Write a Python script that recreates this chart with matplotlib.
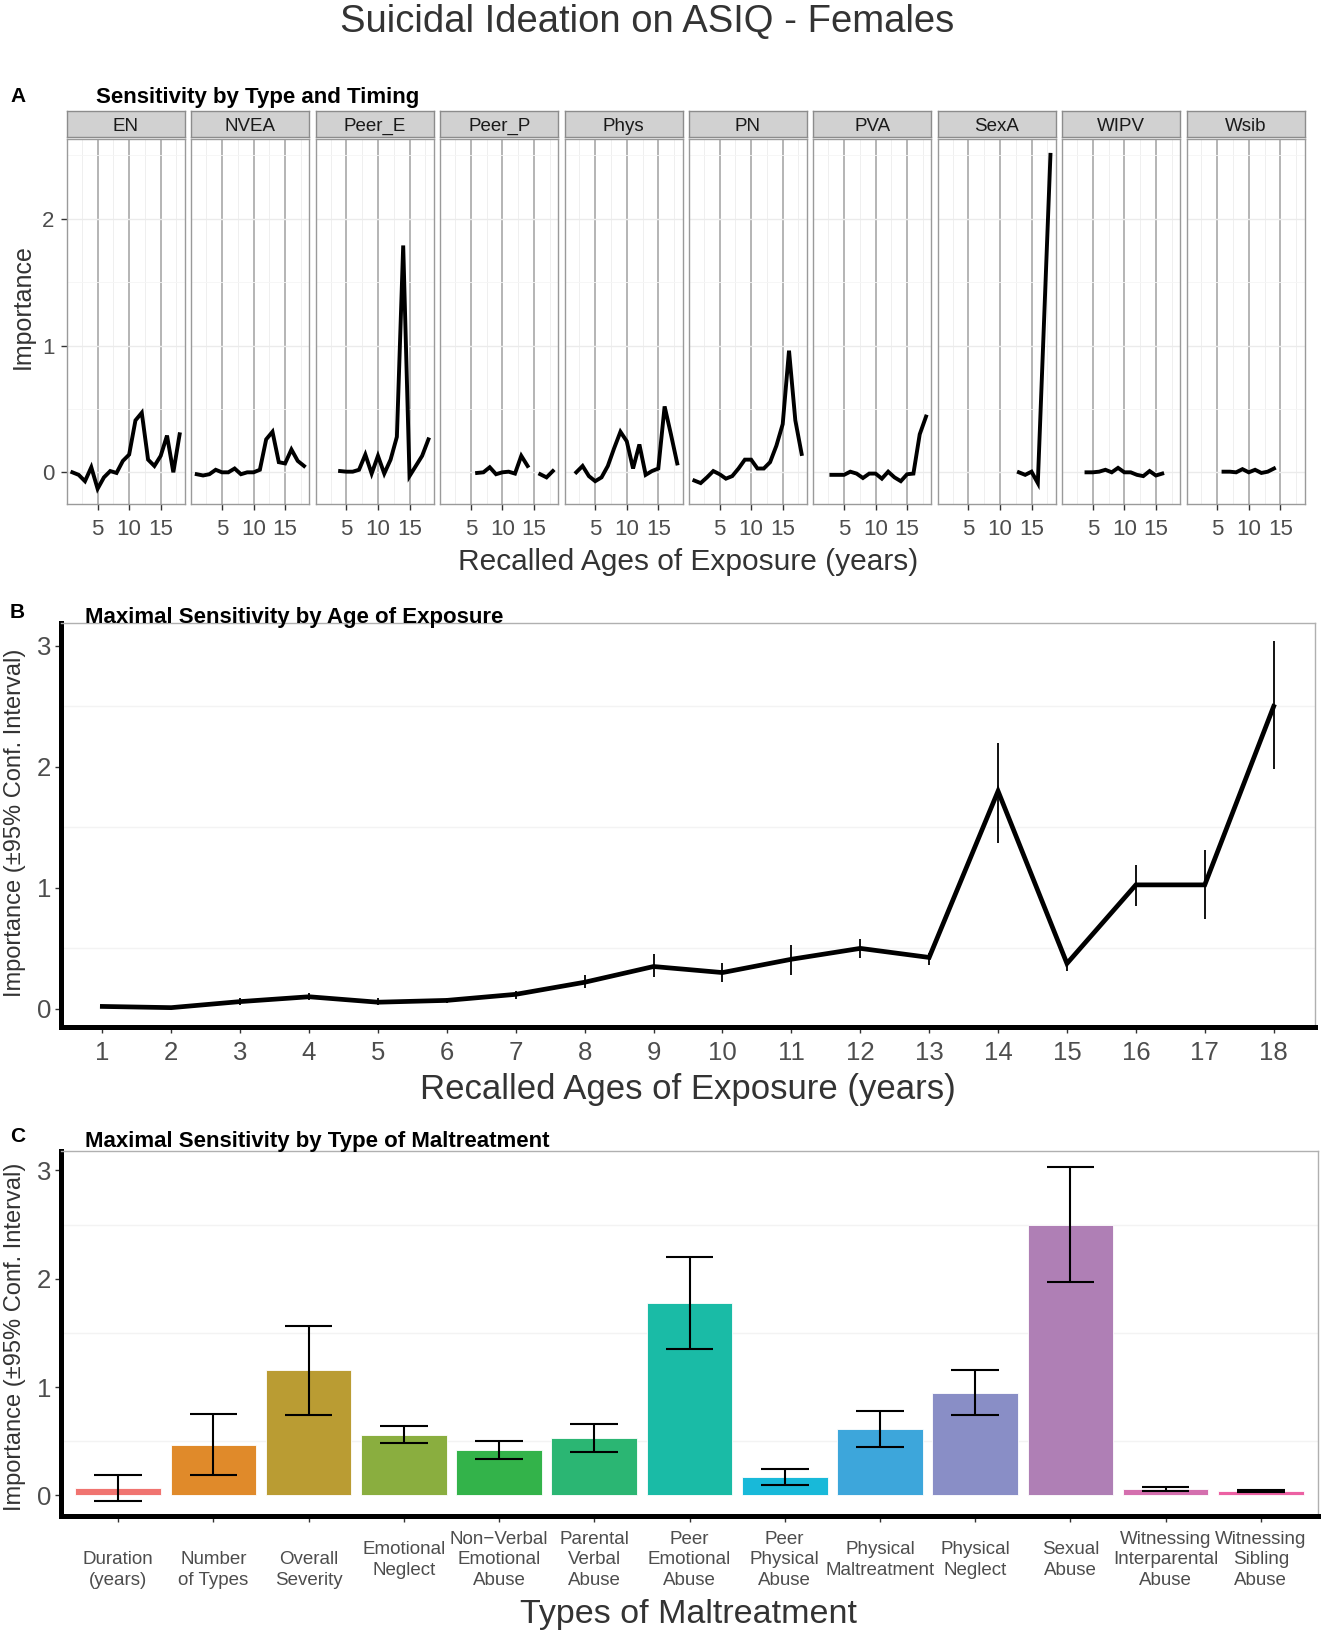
import numpy as np
import matplotlib
matplotlib.use('Agg')
import matplotlib.pyplot as plt
from matplotlib import transforms

plt.rcParams['font.family'] = ['Liberation Sans', 'DejaVu Sans']

W, H = 1323, 1637
nan = np.nan

# ---- panel A: importance by type and age ----
ages = np.arange(1, 19)
type_codes = ['EN', 'NVEA', 'Peer_E', 'Peer_P', 'Phys', 'PN', 'PVA', 'SexA', 'WIPV', 'Wsib']
en = [0.0, -0.02, -0.07, 0.04, -0.13, -0.04, 0.01, -0.005, 0.09, 0.14, 0.41, 0.47, 0.1, 0.05, 0.13, 0.29, 0.0, 0.3]
nvea = [-0.015, -0.025, -0.015, 0.02, 0.0, 0.0, 0.03, -0.015, 0.0, 0.0, 0.02, 0.26, 0.32, 0.08, 0.07, 0.18, 0.09, 0.05]
peer_e = [nan, nan, nan, 0.01, 0.005, 0.005, 0.02, 0.14, -0.01, 0.13, -0.01, 0.1, 0.28, 1.79, -0.03, 0.05, 0.13, 0.26]
peer_p = [nan, nan, nan, nan, nan, -0.005, 0.0, 0.04, -0.015, 0.0, 0.005, -0.01, 0.13, 0.05, nan, -0.015, -0.04, 0.01]
phys = [nan, 0.0, 0.05, -0.03, -0.07, -0.04, 0.05, 0.19, 0.32, 0.245, 0.03, 0.22, -0.02, 0.01, 0.03, 0.52, 0.3, 0.07]
pn = [-0.065, -0.085, -0.04, 0.01, -0.015, -0.05, -0.03, 0.03, 0.1, 0.1, 0.03, 0.03, 0.08, 0.21, 0.38, 0.96, 0.41, 0.145]
pva = [nan, nan, -0.02, -0.02, -0.02, 0.005, -0.01, -0.045, -0.01, -0.01, -0.05, 0.005, -0.04, -0.07, -0.015, -0.01, 0.3, 0.44]
sexa = [nan] * 12 + [0.0, -0.02, 0.005, -0.085, 1.21, 2.505]
wipv = [nan, nan, nan, 0.0, 0.0, 0.005, 0.02, 0.0, 0.035, 0.0, 0.0, -0.02, -0.03, 0.01, -0.025, -0.01, nan, nan]
wsib = [nan] * 5 + [0.005, 0.005, 0.0, 0.025, 0.0, 0.02, -0.005, 0.005, 0.03, nan, nan, nan, nan]
type_series = [en, nvea, peer_e, peer_p, phys, pn, pva, sexa, wipv, wsib]

# ---- panel B: max importance by age ----
b_mean = [0.02, 0.01, 0.06, 0.1, 0.055, 0.07, 0.12, 0.22, 0.35, 0.30, 0.41, 0.50, 0.425, 1.80, 0.375, 1.025, 1.025, 2.50]
b_lo = [0.01, 0.0, 0.03, 0.07, 0.03, 0.05, 0.08, 0.17, 0.265, 0.22, 0.28, 0.42, 0.36, 1.37, 0.315, 0.85, 0.74, 1.98]
b_hi = [0.03, 0.02, 0.09, 0.13, 0.09, 0.09, 0.15, 0.28, 0.45, 0.375, 0.53, 0.58, 0.46, 2.2, 0.405, 1.19, 1.31, 3.04]

# ---- panel C: max importance by type ----
c_labels = ['\nDuration\n(years)', '\nNumber\nof Types', '\nOverall\nSeverity', 'Emotional\nNeglect',
            'Non\u2212Verbal\nEmotional\nAbuse', 'Parental\nVerbal\nAbuse', 'Peer\nEmotional\nAbuse',
            'Peer\nPhysical\nAbuse', 'Physical\nMaltreatment', 'Physical\nNeglect', 'Sexual\nAbuse',
            'Witnessing\nInterparental\nAbuse', 'Witnessing\nSibling\nAbuse']
c_mean = [0.07, 0.47, 1.155, 0.56, 0.42, 0.53, 1.775, 0.167, 0.614, 0.95, 2.5, 0.06, 0.043]
c_lo = [-0.055, 0.185, 0.745, 0.485, 0.34, 0.40, 1.35, 0.095, 0.45, 0.74, 1.97, 0.04, 0.035]
c_hi = [0.185, 0.755, 1.56, 0.64, 0.505, 0.66, 2.2, 0.24, 0.784, 1.16, 3.03, 0.077, 0.05]
c_colors = ['#F07470', '#E08A2A', '#BA9C33', '#8AAE3F', '#33B34A', '#2BB673', '#1ABBA6',
            '#18B9D9', '#3DA6DB', '#898EC6', '#AF7FB5', '#D46FAE', '#EC61A3']

text_col = '#333333'
tick_col = '#4d4d4d'


def rect(l, t, r, b):
    return [l / W, 1 - b / H, (r - l) / W, (b - t) / H]


fig = plt.figure(figsize=(W / 100, H / 100), dpi=100)

fig.text(647 / W, 1 - 22 / H, 'Suicidal Ideation on ASIQ - Females', ha='center', va='center',
         fontsize=27.5, color=text_col)

# ---------------- Panel A ----------------
fig.text(10 / W, 1 - 97 / H, 'A', fontsize=15, fontweight='bold', va='center')
fig.text(96 / W, 1 - 98 / H, 'Sensitivity by Type and Timing', fontsize=16, fontweight='bold', va='center')

for i, (code, vals) in enumerate(zip(type_codes, type_series)):
    left = 67 + i * 124.4
    right = left + 118
    strip = fig.add_axes(rect(left, 111, right, 137))
    strip.set_facecolor('#d1d1d1')
    strip.set_xticks([])
    strip.set_yticks([])
    for s in strip.spines.values():
        s.set_color('#8c8c8c')
        s.set_linewidth(1)
    strip.text(0.5, 0.42, code, ha='center', va='center', fontsize=13.5, color='#1a1a1a',
               transform=strip.transAxes)

    ax = fig.add_axes(rect(left, 139, right, 504))
    ax.plot(ages, vals, color='black', lw=2.8, solid_joinstyle='miter')
    ax.set_xlim(0.15, 18.85)
    ax.set_ylim(-0.25, 2.63)
    ax.set_xticks([5, 10, 15])
    ax.set_xticks([2.5, 7.5, 12.5, 17.5], minor=True)
    ax.set_yticks([0, 1, 2])
    ax.set_yticks([0.5, 1.5, 2.5], minor=True)
    ax.grid(which='major', axis='x', color='#a0a0a0', lw=1.1)
    ax.grid(which='minor', axis='x', color='#ededed', lw=0.6)
    ax.grid(which='major', axis='y', color='#ebebeb', lw=1.0)
    ax.grid(which='minor', axis='y', color='#f5f5f5', lw=0.6)
    ax.set_axisbelow(True)
    for s in ax.spines.values():
        s.set_color('#9a9a9a')
        s.set_linewidth(1)
    ax.tick_params(which='minor', length=0)
    ax.tick_params(axis='x', which='major', length=4, width=1, color='#333333',
                   labelsize=16, labelcolor=tick_col, pad=7)
    if i == 0:
        ax.tick_params(axis='y', which='major', length=4, width=1, color='#333333',
                       labelsize=16, labelcolor=tick_col, pad=5)
    else:
        ax.tick_params(axis='y', which='major', length=0, labelleft=False)

fig.text(688 / W, 1 - 562 / H, 'Recalled Ages of Exposure (years)', ha='center', va='center',
         fontsize=21.5, color=text_col)
fig.text(23 / W, 1 - 307 / H, 'Importance', ha='center', va='center', rotation=90,
         fontsize=18, color=text_col)


def style_main(ax):
    ax.spines['left'].set_linewidth(3.6)
    ax.spines['bottom'].set_linewidth(3.6)
    ax.spines['left'].set_color('black')
    ax.spines['bottom'].set_color('black')
    ax.spines['top'].set_color('#b0b0b0')
    ax.spines['right'].set_color('#b0b0b0')
    ax.spines['top'].set_linewidth(1)
    ax.spines['right'].set_linewidth(1)
    ax.set_yticks([0, 1, 2, 3])
    ax.set_yticks([0.5, 1.5, 2.5], minor=True)
    ax.grid(which='minor', axis='y', color='#f3f3f3', lw=1)
    ax.set_axisbelow(True)
    ax.tick_params(which='minor', length=0)
    ax.tick_params(axis='y', which='major', length=4, width=1, color='#333333',
                   labelsize=18.5, labelcolor=tick_col, pad=3)


# ---------------- Panel B ----------------
fig.text(10 / W, 1 - 613 / H, 'B', fontsize=15, fontweight='bold', va='center')
fig.text(85 / W, 1 - 617 / H, 'Maximal Sensitivity by Age of Exposure', fontsize=16,
         fontweight='bold', va='center')
axb = fig.add_axes(rect(61, 623, 1315, 1027))
axb.vlines(ages, b_lo, b_hi, color='black', lw=1.3)
axb.plot(ages, b_mean, color='black', lw=3.4, solid_joinstyle='miter')
axb.set_xlim(0.4, 18.6)
axb.set_ylim(-0.15, 3.19)
axb.set_xticks(ages)
style_main(axb)
axb.tick_params(axis='x', which='major', length=4, width=1, color='#333333',
                labelsize=18.5, labelcolor=tick_col, pad=6)
axb.set_xlabel('Recalled Ages of Exposure (years)', fontsize=25, color=text_col, labelpad=6)
fig.text(15 / W, 1 - 823 / H, 'Importance (\u00b195% Conf. Interval)', ha='center', va='center',
         rotation=90, fontsize=17, color=text_col)

# ---------------- Panel C ----------------
fig.text(10 / W, 1 - 1137 / H, 'C', fontsize=15, fontweight='bold', va='center')
fig.text(85 / W, 1 - 1142 / H, 'Maximal Sensitivity by Type of Maltreatment', fontsize=16,
         fontweight='bold', va='center')
axc = fig.add_axes(rect(61, 1151, 1318, 1516))
xc = np.arange(1, len(c_mean) + 1)
axc.bar(xc, c_mean, width=0.9, color=c_colors, edgecolor='white', linewidth=0.6)
axc.vlines(xc, c_lo, c_hi, color='black', lw=1.5)
axc.hlines(c_lo, xc - 0.25, xc + 0.25, color='black', lw=1.5)
axc.hlines(c_hi, xc - 0.25, xc + 0.25, color='black', lw=1.5)
axc.set_xlim(0.4, 13.6)
axc.set_ylim(-0.19, 3.18)
axc.set_xticks(xc)
axc.set_xticklabels([])
style_main(axc)
axc.tick_params(axis='x', which='major', length=4, width=1, color='#333333')
trans = transforms.blended_transform_factory(axc.transData, axc.transAxes)
for x, lab in zip(xc, c_labels):
    axc.text(x, -0.12, lab, transform=trans, ha='center', va='center', fontsize=13.5,
             color=tick_col, linespacing=1.28)
fig.text(688 / W, 1 - 1615 / H, 'Types of Maltreatment', ha='center', va='center',
         fontsize=24.5, color=text_col)
fig.text(15 / W, 1 - 1337 / H, 'Importance (\u00b195% Conf. Interval)', ha='center', va='center',
         rotation=90, fontsize=17, color=text_col)

fig.savefig('out.png', dpi=100)
